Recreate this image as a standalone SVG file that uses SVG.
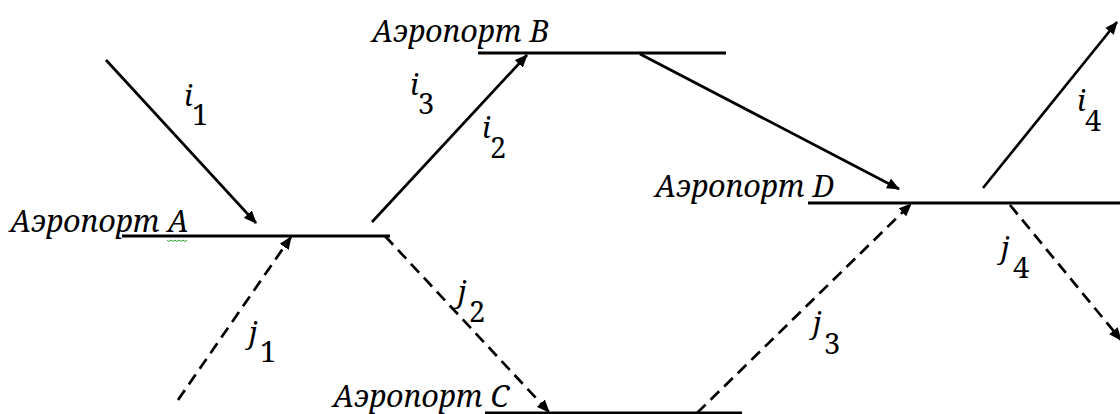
<svg xmlns="http://www.w3.org/2000/svg" width="1120" height="414" viewBox="0 0 1120 414">
<style>
.lbl{font-family:'Noto Serif','DejaVu Serif',serif;font-style:italic;font-size:30px;fill:#000}
.var{font-family:'Noto Serif','DejaVu Serif',serif;font-size:29px;fill:#000}
.v{font-style:italic}
.port{stroke:#000;stroke-width:3;fill:none}
.sol{stroke:#000;stroke-width:2.7;fill:none;marker-end:url(#ah)}
.dash{stroke:#000;stroke-width:2.7;fill:none;stroke-dasharray:12 7;marker-end:url(#ah)}
</style>
<defs>
<marker id="ah" viewBox="0 0 13 11" refX="12" refY="5.5" markerWidth="13" markerHeight="11" markerUnits="userSpaceOnUse" orient="auto">
<path d="M0,0 L13,5.5 L0,11 Z" fill="#000"/>
</marker>
</defs>
<rect width="1120" height="414" fill="#fff"/>
<g id="airportA">
<line class="port" x1="122" y1="236" x2="390" y2="236"/>
<text class="lbl" x="10" y="232">Аэропорт A</text>
<path d="M167,240 q2,3 4,0 q2,3 4,0 q2,3 4,0 q2,3 4,0 q2,3 4,0" stroke="#2a9a2a" stroke-width="1" fill="none"/>
</g>
<g id="airportB">
<line class="port" x1="478" y1="53" x2="726" y2="53"/>
<text class="lbl" x="372" y="42">Аэропорт B</text>
</g>
<g id="airportD">
<line class="port" x1="808" y1="203" x2="1120" y2="203"/>
<text class="lbl" x="655" y="197">Аэропорт D</text>
</g>
<g id="airportC">
<line class="port" x1="485" y1="413" x2="742" y2="413"/>
<text class="lbl" x="333" y="407">Аэропорт C</text>
</g>
<g id="connectors">
<line class="sol" x1="106" y1="60" x2="256" y2="223"/>
<line class="sol" x1="372" y1="222" x2="527" y2="55"/>
<line class="sol" x1="640" y1="54" x2="899" y2="189"/>
<line class="sol" x1="983" y1="188" x2="1117" y2="22"/>
<line class="dash" x1="178" y1="400" x2="291" y2="237"/>
<line class="dash" x1="385" y1="236" x2="549" y2="412"/>
<line class="dash" x1="697" y1="413" x2="911" y2="204"/>
<line class="dash" x1="1010" y1="205" x2="1121" y2="340"/>
</g>
<g id="labels">
<text class="var" x="184" y="106"><tspan class="v">i</tspan><tspan x="192" y="125">1</tspan></text>
<text class="var" x="410" y="95"><tspan class="v">i</tspan><tspan x="418" y="114">3</tspan></text>
<text class="var" x="482" y="138"><tspan class="v">i</tspan><tspan x="490" y="158">2</tspan></text>
<text class="var" x="1077" y="111"><tspan class="v">i</tspan><tspan x="1085" y="131">4</tspan></text>
<text class="var" x="249" y="343"><tspan class="v">j</tspan><tspan x="260" y="362">1</tspan></text>
<text class="var" x="458" y="302"><tspan class="v">j</tspan><tspan x="469" y="322">2</tspan></text>
<text class="var" x="813" y="333"><tspan class="v">j</tspan><tspan x="824" y="354">3</tspan></text>
<text class="var" x="1001" y="258"><tspan class="v">j</tspan><tspan x="1013" y="278">4</tspan></text>
</g>
</svg>
